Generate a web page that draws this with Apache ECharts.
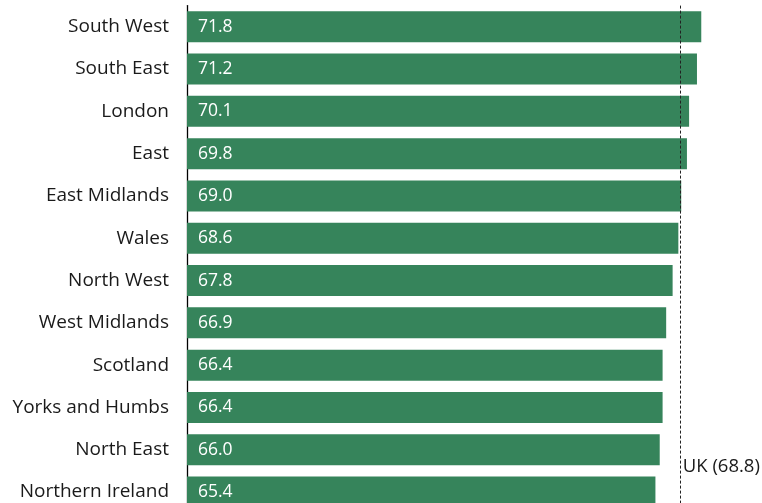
<!DOCTYPE html>
<html>
<head>
<meta charset="utf-8">
<script src="https://cdn.jsdelivr.net/npm/echarts@6/dist/echarts.min.js"></script>
<style>
  html, body { margin: 0; padding: 0; background: #fff; overflow: hidden; }
  /* the last row runs past the lower edge of the window */
  #chart { width: 762px; height: 520px; }
</style>
</head>
<body>
<div id="chart"></div>
<script>
// Regions, top to bottom
const regions = ['South West', 'South East', 'London', 'East', 'East Midlands', 'Wales',
  'North West', 'West Midlands', 'Scotland', 'Yorks and Humbs', 'North East', 'Northern Ireland'];
const values = [71.8, 71.2, 70.1, 69.8, 69.0, 68.6, 67.8, 66.9, 66.4, 66.4, 66.0, 65.4];
const ukValue = 68.8;
const ukLabel = 'UK (68.8)';

const FONT = '"Open Sans", "Noto Sans", sans-serif';
const chart = echarts.init(document.getElementById('chart'));

chart.setOption({
  animation: false,
  grid: { left: 187, top: 5.6, width: 573, height: 507.6, containLabel: false },
  xAxis: {
    type: 'value', min: 0, max: 80,
    show: false
  },
  yAxis: {
    type: 'category',
    data: regions,
    inverse: true,
    axisLine: { show: true, lineStyle: { color: '#000', width: 1.3 } },
    axisTick: { show: false },
    axisLabel: { color: '#1a1a1a', fontSize: 19, fontFamily: FONT, margin: 18 }
  },
  series: [{
    type: 'bar',
    data: values,
    barCategoryGap: '26.7%',
    itemStyle: { color: '#36845b' },
    label: {
      show: true, position: 'insideLeft', distance: 11,
      color: '#fff', fontSize: 17.5, fontFamily: FONT,
      formatter: p => p.value.toFixed(1)
    },
    markLine: {
      silent: true, symbol: 'none',
      lineStyle: { color: '#222', type: [3, 2], width: 1 },
      label: { show: false },
      data: [{ xAxis: ukValue }]
    },
    markPoint: {
      silent: true, symbol: 'circle', symbolSize: 0,
      data: [{ coord: [ukValue, 'North East'] }],
      label: {
        show: true, position: 'right', distance: 3, offset: [0, 17],
        formatter: ukLabel, color: '#1a1a1a', fontSize: 18.5, fontFamily: FONT
      }
    }
  }]
});
</script>
</body>
</html>
